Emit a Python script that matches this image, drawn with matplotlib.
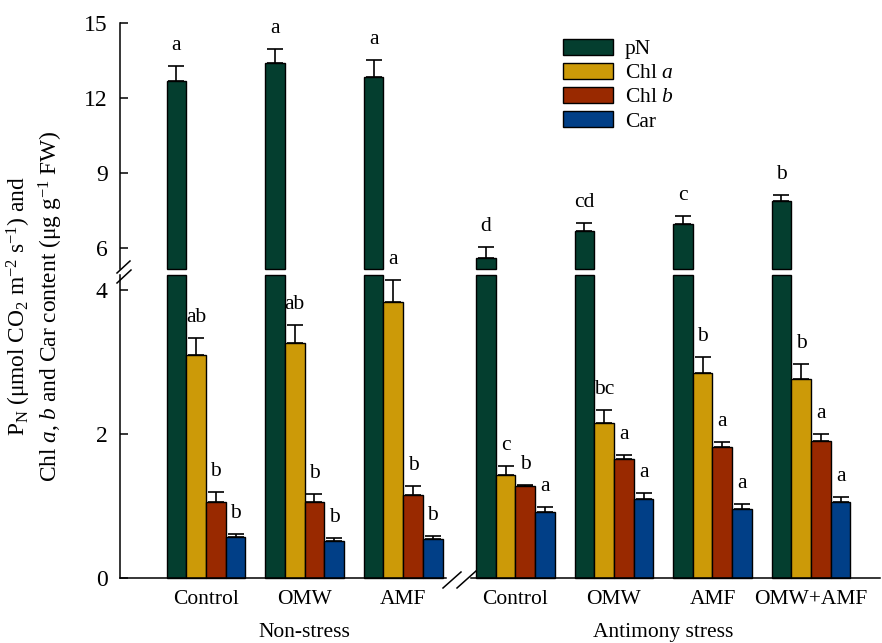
import numpy as np
import matplotlib.pyplot as plt
from matplotlib.lines import Line2D
from matplotlib.transforms import blended_transform_factory

plt.rcParams['font.family'] = 'Liberation Serif'
plt.rcParams['mathtext.fontset'] = 'custom'
plt.rcParams['mathtext.rm'] = 'Liberation Serif'
plt.rcParams['mathtext.it'] = 'Liberation Serif:italic'

# data
treatments = ['Control', 'OMW', 'AMF', 'Control', 'OMW', 'AMF', 'OMW+AMF']
conditions = ['Non-stress', 'Antimony stress']
cond_idx = [0, 0, 0, 1, 1, 1, 1]

pn = [12.69, 13.38, 12.85, 5.60, 6.69, 6.97, 7.89]
pn_err = [0.57, 0.56, 0.67, 0.45, 0.31, 0.33, 0.22]
chla = [3.10, 3.26, 3.84, 1.43, 2.16, 2.85, 2.76]
chla_err = [0.24, 0.25, 0.30, 0.12, 0.18, 0.22, 0.22]
chlb = [1.06, 1.05, 1.15, 1.28, 1.65, 1.82, 1.91]
chlb_err = [0.13, 0.12, 0.13, 0.01, 0.06, 0.07, 0.09]
car = [0.565, 0.52, 0.54, 0.92, 1.10, 0.96, 1.05]
car_err = [0.045, 0.04, 0.05, 0.07, 0.08, 0.07, 0.075]

pn_let = ['a', 'a', 'a', 'd', 'cd', 'c', 'b']
chla_let = ['ab', 'ab', 'a', 'c', 'bc', 'b', 'b']
chlb_let = ['b', 'b', 'b', 'b', 'a', 'a', 'a']
car_let = ['b', 'b', 'b', 'a', 'a', 'a', 'a']

labels = ['pN', 'Chl $a$', 'Chl $b$', 'Car']
colors = ['#043e2f', '#cc9a08', '#992900', '#013f87']

W, H = 882, 643
fig = plt.figure(figsize=(W / 100, H / 100), dpi=100)

def rect(x0, y0, x1, y1):
    # pixel box (top-left origin) -> figure fraction
    return [x0 / W, 1 - y1 / H, (x1 - x0) / W, (y1 - y0) / H]

ax_low = fig.add_axes(rect(120, 275, 880, 578))
ax_up = fig.add_axes(rect(120, 22.7, 880, 269))

idx = np.arange(len(treatments))
x = idx + np.where(np.array(cond_idx) == 1, 0.14, 0.0)
w = 0.2
low_lim = (0, 4.21)
up_lim = (5.17, 15)

series = [(pn, pn_err, pn_let), (chla, chla_err, chla_let),
          (chlb, chlb_err, chlb_let), (car, car_err, car_let)]

handles = []
for k, (vals, errs, lets) in enumerate(series):
    xs = x + (k - 1.5) * w
    vals = np.array(vals)
    errs = np.array(errs)
    if k == 0:
        # lower segment of the broken pN bars
        b = ax_low.bar(xs, np.minimum(vals, low_lim[1]), w, color=colors[k],
                       edgecolor='black', linewidth=1.0, clip_on=False)
        ax_up.bar(xs, vals - up_lim[0], w, bottom=up_lim[0], color=colors[k],
                  edgecolor='black', linewidth=1.0, clip_on=False)
        tgt = ax_up
    else:
        b = ax_low.bar(xs, vals, w, color=colors[k], edgecolor='black',
                       linewidth=1.0, clip_on=False)
        tgt = ax_low
    handles.append(b)
    tgt.errorbar(xs, vals, yerr=[np.zeros_like(errs), errs], fmt='none',
                 ecolor='black', elinewidth=1.2, capsize=6, capthick=1.2,
                 clip_on=False)
    for xi, v, e, t in zip(xs, vals, errs, lets):
        tgt.annotate(t, (xi, v + e), xytext=(0, 11.5), textcoords='offset points',
                     ha='center', va='baseline', fontsize=15.5, annotation_clip=False)

xlim = (-0.873, 6.84)
for ax in (ax_low, ax_up):
    ax.set_xlim(*xlim)
    ax.spines['top'].set_visible(False)
    ax.spines['right'].set_visible(False)
    ax.spines['left'].set_linewidth(1.1)
    ax.spines['bottom'].set_linewidth(1.1)
    ax.tick_params(axis='y', direction='in', length=6, width=1.1, labelsize=17, pad=9)
    ax.patch.set_visible(False)

ax_low.set_ylim(*low_lim)
ax_low.set_yticks([0, 2, 4])
ax_low.set_xticks(x)
ax_low.set_xticklabels(treatments, fontsize=15.5)
ax_low.tick_params(axis='x', length=0, pad=8.5)

ax_up.set_ylim(*up_lim)
ax_up.set_yticks([6, 9, 12, 15])
ax_up.spines['bottom'].set_visible(False)
ax_up.set_xticks([])

# condition labels (at the very bottom edge, as in the original)
trans = blended_transform_factory(ax_low.transData, fig.transFigure)
for c, name in enumerate(conditions):
    xc = np.mean(x[np.array(cond_idx) == c])
    ax_low.text(xc, 1 / H, name, transform=trans, ha='center', va='bottom',
                fontsize=15.5, clip_on=False)

# y label
fig.text(35 / W, 1 - 306 / H,
         'P$_\\mathrm{N}$ (μmol CO$_2$ m$^{-2}$ s$^{-1}$) and\n'
         'Chl $a$, $b$ and Car content (μg g$^{-1}$ FW)',
         rotation=90, ha='center', va='center', multialignment='center',
         fontsize=16.8, linespacing=1.2)

# break marks
def seg(p0, p1, color='black', lw=1.1):
    fig.add_artist(Line2D([p0[0] / W, p1[0] / W], [1 - p0[1] / H, 1 - p1[1] / H],
                          color=color, lw=lw, transform=fig.transFigure))

seg((117, 273), (130, 261))
seg((117, 283), (131, 270))
seg((448, 578), (468, 578), color='white', lw=2.5)
seg((443, 588), (461, 572))
seg((457, 588), (476, 571))

fig.legend([h[0] for h in handles], labels, loc='upper left',
           bbox_to_anchor=(563 / W, 1 - 39 / H), bbox_transform=fig.transFigure,
           frameon=False, fontsize=15.5, handlelength=2.33, handleheight=0.75,
           handletextpad=0.55, labelspacing=0.17, borderpad=0, borderaxespad=0)

fig.savefig('out.png', dpi=100)
